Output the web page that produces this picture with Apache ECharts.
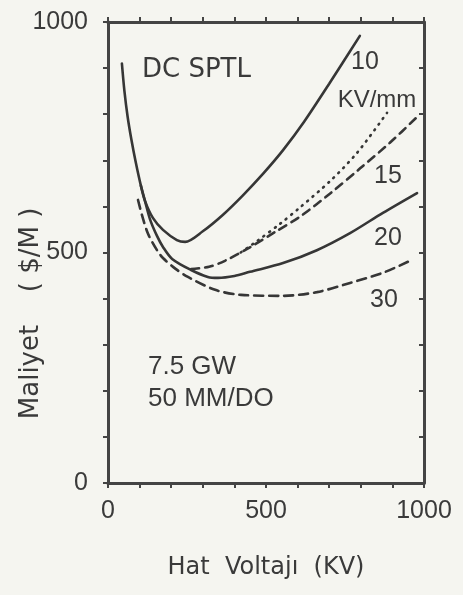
<!DOCTYPE html>
<html>
<head>
<meta charset="utf-8">
<script src="https://cdn.jsdelivr.net/npm/echarts@6/dist/echarts.min.js"></script>
<style>
html,body{margin:0;padding:0;background:#f5f5f0;}
#c{width:463px;height:595px;}
</style>
</head>
<body>
<div id="c"></div>
<script>
// Axis ticks
var xTicks = [0, 500, 1000];
var yTicks = [0, 500, 1000];

// 10 kV/mm (solid, upper)
var volt10 = [44, 52, 62, 74, 88, 104, 117, 142, 174, 218, 244, 300, 364, 427, 491, 554, 620, 700, 797];
var cost10 = [910, 850, 795, 745, 695, 645, 612, 575, 549, 527, 523, 546, 582, 624, 671, 722, 783, 866, 970];

// unlabelled dotted curve
var voltDot = [420, 472, 544, 608, 703, 788, 883];
var costDot = [500, 525, 562, 598, 655, 716, 803];

// 15 kV/mm (dashed)
var volt15 = [263, 320, 370, 451, 530, 608, 703, 797, 892, 978];
var cost15 = [464, 469, 482, 512, 545, 578, 628, 682, 738, 794];

// 20 kV/mm (solid, lower)
var volt20 = [104, 117, 133, 155, 174, 203, 263, 316, 348, 400, 449, 554, 661, 766, 870, 978];
var cost20 = [645, 612, 572, 536, 512, 486, 462, 447, 445, 449, 458, 477, 505, 542, 586, 629];

// 30 kV/mm (dashed, bottom)
var volt30 = [95, 108, 127, 155, 174, 215, 253, 339, 421, 554, 661, 766, 870, 962];
var cost30 = [614, 580, 540, 505, 488, 464, 447, 419, 408, 406, 414, 434, 456, 484];

function pairs(xs, ys) { return xs.map(function (x, i) { return [x, ys[i]]; }); }

var ink = '#363636';
var chart = echarts.init(document.getElementById('c'), null, {renderer: 'canvas'});

function lineSeries(xs, ys, type) {
  return {
    type: 'line', data: pairs(xs, ys), smooth: 0.3, showSymbol: false, symbol: 'none',
    lineStyle: {color: ink, width: 2.6, type: type, cap: 'round'},
    silent: true, animation: false
  };
}

var axisLineStyle = {color: '#444', width: 3};
var tickStyle = {color: '#444', width: 2};
var labelFont = {fontFamily: 'Liberation Sans', fontSize: 25, color: '#3a3a3a'};

chart.setOption({
  backgroundColor: '#f5f5f0',
  animation: false,
  grid: {left: 108, right: 39, top: 22, bottom: 112},
  xAxis: [{
    type: 'value', min: 0, max: 1000, interval: 100, position: 'bottom',
    axisLine: {onZero: false, lineStyle: axisLineStyle},
    axisTick: {show: true, length: 5, lineStyle: tickStyle},
    splitLine: {show: false},
    axisLabel: Object.assign({margin: 16, formatter: function (v) { return xTicks.indexOf(v) >= 0 ? String(v) : ''; }}, labelFont)
  }, {
    type: 'value', min: 0, max: 1000, interval: 100, position: 'top',
    axisLine: {show: true, onZero: false, lineStyle: axisLineStyle},
    axisTick: {show: true, length: 5, lineStyle: tickStyle},
    splitLine: {show: false}, axisLabel: {show: false}
  }],
  yAxis: [{
    type: 'value', min: 0, max: 1000, interval: 100, position: 'left',
    axisLine: {show: true, onZero: false, lineStyle: axisLineStyle},
    axisTick: {show: true, length: 5, lineStyle: tickStyle},
    splitLine: {show: false},
    axisLabel: Object.assign({margin: 20, formatter: function (v) { return yTicks.indexOf(v) >= 0 ? String(v) : ''; }}, labelFont)
  }, {
    type: 'value', min: 0, max: 1000, interval: 100, position: 'right',
    axisLine: {show: true, onZero: false, lineStyle: axisLineStyle},
    axisTick: {show: true, inside: true, length: 5, lineStyle: tickStyle},
    splitLine: {show: false}, axisLabel: {show: false}
  }],
  series: [
    lineSeries(volt10, cost10, 'solid'),
    lineSeries(voltDot, costDot, [1, 6]),
    lineSeries(volt15, cost15, [8, 6]),
    lineSeries(volt20, cost20, 'solid'),
    lineSeries(volt30, cost30, [9, 6])
  ],
  graphic: [
    {type: 'text', left: 142, top: 57, style: {text: 'DC SPTL', font: '26px "DejaVu Sans"', fill: '#3a3a3a'}},
    {type: 'text', x: 365, y: 62, style: {text: '10', font: '25px "Liberation Sans"', fill: '#3a3a3a', textAlign: 'center', textVerticalAlign: 'middle'}},
    {type: 'text', x: 377, y: 100, style: {text: 'KV/mm', font: '24px "Liberation Sans"', fill: '#3a3a3a', textAlign: 'center', textVerticalAlign: 'middle'}},
    {type: 'text', x: 388, y: 176, style: {text: '15', font: '25px "Liberation Sans"', fill: '#3a3a3a', textAlign: 'center', textVerticalAlign: 'middle'}},
    {type: 'text', x: 388, y: 238, style: {text: '20', font: '25px "Liberation Sans"', fill: '#3a3a3a', textAlign: 'center', textVerticalAlign: 'middle'}},
    {type: 'text', x: 384, y: 300, style: {text: '30', font: '25px "Liberation Sans"', fill: '#3a3a3a', textAlign: 'center', textVerticalAlign: 'middle'}},
    {type: 'text', x: 148, y: 367, style: {text: '7.5 GW', font: '26px "Liberation Sans"', fill: '#3a3a3a', textAlign: 'left', textVerticalAlign: 'middle'}},
    {type: 'text', x: 148, y: 399, style: {text: '50 MM/DO', font: '26px "Liberation Sans"', fill: '#3a3a3a', textAlign: 'left', textVerticalAlign: 'middle'}},
    {type: 'text', x: 266, y: 568, style: {text: 'Hat  Voltajı  (KV)', font: '24px "DejaVu Sans"', fill: '#3a3a3a', textAlign: 'center', textVerticalAlign: 'middle'}},
    {type: 'text', x: 31, y: 372, rotation: Math.PI / 2, style: {text: 'Maliyet', font: '26px "DejaVu Sans"', fill: '#3a3a3a', textAlign: 'center', textVerticalAlign: 'middle'}},
    {type: 'text', x: 31, y: 250, rotation: Math.PI / 2, style: {text: '( $/M )', font: '26px "DejaVu Sans"', fill: '#3a3a3a', textAlign: 'center', textVerticalAlign: 'middle'}}
  ]
});
</script>
</body>
</html>
